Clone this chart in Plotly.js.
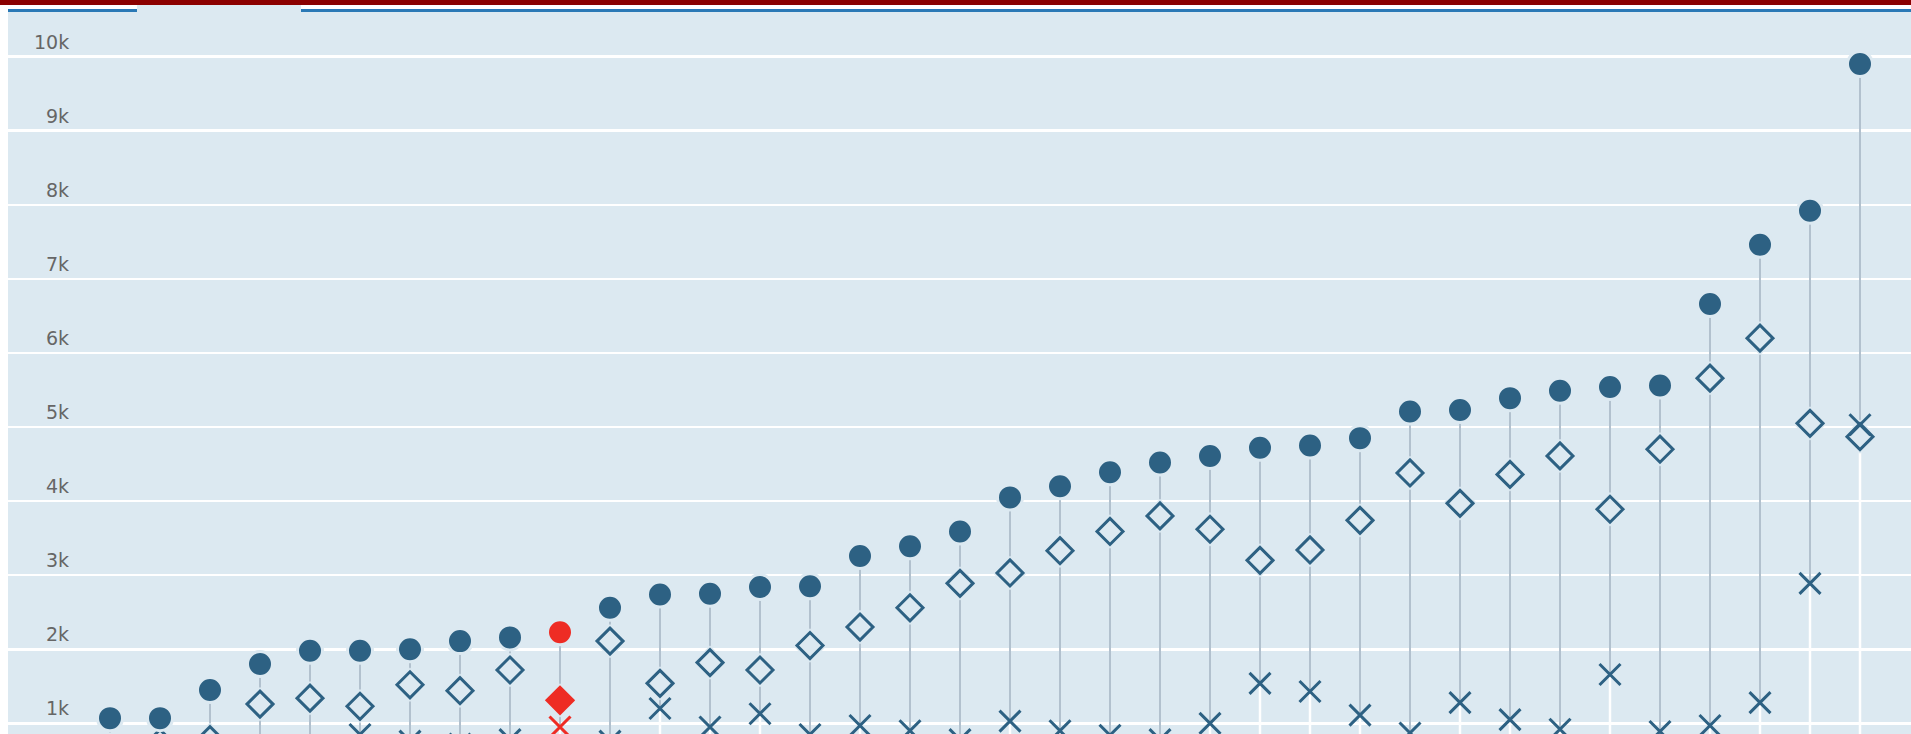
<!DOCTYPE html>
<html>
<head>
<meta charset="utf-8">
<script src="https://cdn.plot.ly/plotly-3.0.1.min.js"></script>
<style>
  html, body { margin: 0; padding: 0; background: #ffffff; overflow: hidden; width: 1911px; height: 734px; }
  #topbar { position: absolute; left: 0; top: 0; width: 1911px; height: 5px; background: #8b0000; }
  #tabline1 { position: absolute; left: 8px; top: 9px; width: 129px; height: 3px; background: #2a79b6; z-index: 5; }
  #tabline2 { position: absolute; left: 301px; top: 9px; width: 1610px; height: 3px; background: #2a79b6; z-index: 5; }
  #tabgap { position: absolute; left: 137px; top: 5px; width: 164px; height: 7px; background: #dce9f1; z-index: 4; }
  #chart { position: absolute; left: 8px; top: 9px; width: 1903px; height: 725px; }
</style>
</head>
<body>
<div id="topbar"></div>
<div id="tabgap"></div>
<div id="tabline1"></div>
<div id="tabline2"></div>
<div id="chart"></div>
<script>
// ---- data ----
var categories = ["1","2","3","4","5","6","7","8","9","10","11","12","13","14","15","16","17","18",
                  "19","20","21","22","23","24","25","26","27","28","29","30","31","32","33","34","35","36"];
// filled circle series
var seriesCircle = [1070, 1070, 1450, 1800, 1980, 1980, 2000, 2110, 2160, 2230, 2560, 2740,
                    2750, 2840, 2850, 3260, 3390, 3590, 4050, 4200, 4390, 4520, 4610, 4720,
                    4750, 4850, 5210, 5230, 5390, 5490, 5540, 5560, 6660, 7460, 7920, 9900];
// open diamond series
var seriesDiamond = [650, 740, 780, 1260, 1340, 1230, 1520, 1440, 1720, 1310, 2110, 1540,
                     1820, 1720, 2050, 2300, 2560, 2890, 3030, 3330, 3590, 3800, 3620, 3200,
                     3340, 3740, 4380, 3970, 4360, 4610, 3890, 4700, 5660, 6200, 5050, 4870];
// cross series
var seriesCross = [450, 500, 560, 700, 680, 850, 760, 720, 780, 950, 760, 1200,
                   950, 1130, 850, 970, 900, 780, 1030, 900, 840, 780, 1000, 1540,
                   1430, 1110, 870, 1280, 1050, 920, 1660, 890, 970, 1280, 2890, 5030];
var highlightIndex = 9;
var yTickVals = [1000, 2000, 3000, 4000, 5000, 6000, 7000, 8000, 9000, 10000];
var yTickText = ["1k", "2k", "3k", "4k", "5k", "6k", "7k", "8k", "9k", "10k"];

// ---- styles ----
var BLUE = "#2d6183", RED = "#ee2c24", BG = "#dce9f1", STEM = "#b2c1ce";

function colorArr() {
  return categories.map(function (c, i) { return i === highlightIndex ? RED : BLUE; });
}

// grey stems from max to min, white stems from baseline to min
var stemX = [], stemY = [], baseX = [], baseY = [];
categories.forEach(function (c, i) {
  var vals = [seriesCircle[i], seriesDiamond[i], seriesCross[i]];
  var mx = Math.max.apply(null, vals), mn = Math.min.apply(null, vals);
  stemX.push(c, c, null);
  stemY.push(mx, mn, null);
  baseX.push(c, c, null);
  baseY.push(0, mn, null);
});

var traces = [
  { type: "scatter", mode: "lines", x: baseX, y: baseY,
    line: { color: "#ffffff", width: 2.5 }, hoverinfo: "skip", showlegend: false },
  { type: "scatter", mode: "lines", x: stemX, y: stemY,
    line: { color: STEM, width: 2 }, hoverinfo: "skip", showlegend: false },
  // halo under diamonds
  { type: "scatter", mode: "markers", x: categories, y: seriesDiamond,
    marker: { symbol: "diamond", size: 21, color: BG, line: { color: BG, width: 5 } },
    hoverinfo: "skip", showlegend: false },
  { type: "scatter", mode: "markers", x: categories, y: seriesCross,
    marker: { symbol: "x-thin-open", size: 21, color: colorArr(), line: { color: colorArr(), width: 3 } },
    showlegend: false },
  { type: "scatter", mode: "markers", x: categories, y: seriesDiamond,
    marker: { symbol: categories.map(function (c, i) { return i === highlightIndex ? "diamond" : "diamond-open"; }),
              size: 20, color: colorArr(), line: { color: colorArr(), width: 3 } },
    showlegend: false },
  { type: "scatter", mode: "markers", x: categories, y: seriesCircle,
    marker: { symbol: "circle", size: 25, color: colorArr(), line: { color: BG, width: 3 } },
    showlegend: false }
];

var annotations = yTickVals.map(function (v, i) {
  return { xref: "paper", yref: "y", x: 0.033, y: v, xanchor: "right", yanchor: "middle",
           yshift: 15, showarrow: false, text: yTickText[i],
           font: { family: "DejaVu Sans, sans-serif", size: 19, color: "#666666" } };
});

var layout = {
  width: 1903, height: 725,
  margin: { l: 0, r: 0, t: 0, b: 0, pad: 0 },
  paper_bgcolor: BG, plot_bgcolor: BG,
  showlegend: false,
  xaxis: { type: "category", range: [-2.04, 36.02], showgrid: false,
           showticklabels: false, ticks: "", zeroline: false, showline: false, fixedrange: true },
  yaxis: { range: [856, 10643], tickvals: yTickVals, showgrid: true, gridcolor: "#ffffff", gridwidth: 2.5,
           showticklabels: false, ticks: "", zeroline: false, showline: false, fixedrange: true },
  annotations: annotations
};

Plotly.newPlot("chart", traces, layout, { staticPlot: true, displayModeBar: false });
</script>
</body>
</html>
